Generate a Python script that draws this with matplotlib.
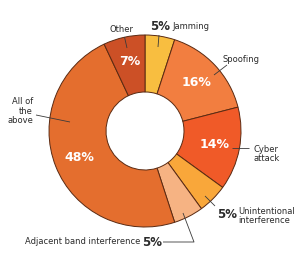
import matplotlib
matplotlib.use("Agg")
import matplotlib.pyplot as plt
import numpy as np

categories = ["Jamming", "Spoofing", "Cyber attack", "Unintentional interference",
              "Adjacent band interference", "All of the above", "Other"]
values = [5, 16, 14, 5, 5, 48, 7]
colors = ["#F8BE40", "#F27E40", "#F05A28", "#F9A73A", "#F6B383", "#E46E2E", "#CC5026"]

FONT = ["DejaVu Sans"]
TXT = "#2b2b2b"
LC = "#3a3a3a"

fig = plt.figure(figsize=(3.0, 2.64), dpi=100)
ax = fig.add_axes([0, 0, 1, 1])

H = 264
cx, cy, R, r_in = 145, H - 131, 96, 39
wedges, _ = ax.pie(values, colors=colors, startangle=90, counterclock=False,
                   center=(cx, cy), radius=R, frame=True,
                   wedgeprops=dict(width=R - r_in, edgecolor="#5a2a12", linewidth=0.7))
ax.set_xlim(0, 300)
ax.set_ylim(0, 264)
ax.set_aspect("equal")
ax.axis("off")

def pt(ang, rad):
    a = np.deg2rad(ang)
    return cx + rad * np.cos(a), cy + rad * np.sin(a)

# inner white percentage labels
for w, v in zip(wedges, values):
    if v >= 7:
        mid = (w.theta1 + w.theta2) / 2
        x, y = pt(mid, 0.74 * R)
        ax.text(x, y, f"{v}%", color="white", fontsize=9, fontweight="bold",
                ha="center", va="center", family=FONT)

def line(pts):
    xs = [p[0] for p in pts]
    ys = [H - p[1] for p in pts]
    ax.plot(xs, ys, color=LC, lw=0.6, solid_capstyle="butt")

def lab(x, y, s, ha="left", size=6, bold=False, ls=1.0):
    ax.text(x, H - y, s, fontsize=size, fontweight="bold" if bold else "normal",
            color=TXT, ha=ha, va="center", family=FONT, linespacing=ls)

# Jamming
lab(160, 26, f"{values[0]}%", ha="center", size=8.5, bold=True)
lab(172, 26.5, categories[0])
line([(159, 35), (158, 47)])
# Other
lab(122, 30, categories[6], ha="center")
line([(124.5, 37), (127, 48)])
# Spoofing
lab(241, 59, categories[1], ha="center")
line([(227, 65), (214, 75)])
# Cyber attack
lab(253, 154, "Cyber\nattack", ha="left", ls=1.1)
line([(232, 148), (249, 148)])
# Unintentional interference
lab(227, 214, f"{values[3]}%", ha="center", size=8.5, bold=True)
lab(238, 216, "Unintentional\ninterference", ha="left", ls=1.1)
line([(205, 196), (215, 206)])
# All of the above
lab(33, 111, "All of\nthe\nabove", ha="right", ls=1.1)
line([(36, 115), (70, 122)])
# Adjacent band interference
lab(140, 242, categories[4], ha="right")
lab(152, 243, f"{values[4]}%", ha="center", size=8.5, bold=True)
line([(163, 242), (194, 242), (183, 213)])

fig.savefig("out.png", dpi=100)
